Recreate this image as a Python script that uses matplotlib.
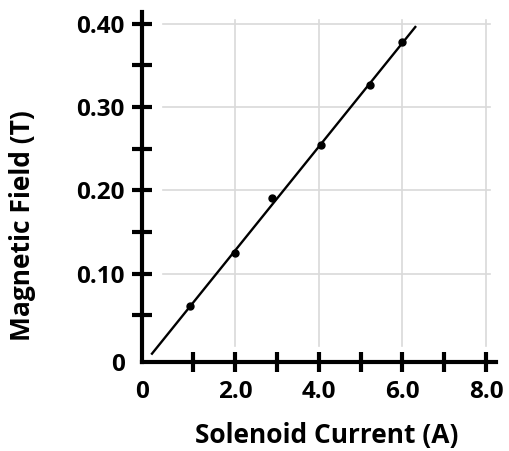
import matplotlib
matplotlib.use("Agg")
import matplotlib.pyplot as plt

# data
current = [0.93, 2.0, 2.89, 4.05, 5.23, 5.99]
field = [0.061, 0.125, 0.191, 0.255, 0.327, 0.378]
fit_x = [0.014, 6.31]
fit_y = [0.004, 0.396]

x_lim = (-0.225, 8.24)
y_lim = (-0.006, 0.414)
x_ticks = [x_lim[0], 1, 2, 3, 4, 5, 6, 7, 8]
x_tick_labels = ["0", "", "2.0", "", "4.0", "", "6.0", "", "8.0"]
y_ticks = [y_lim[0], 0.05, 0.10, 0.15, 0.20, 0.25, 0.30, 0.35, 0.40]
y_tick_labels = ["0", "", "0.10", "", "0.20", "", "0.30", "", "0.40"]
x_grid = [2, 4, 6, 8]
y_grid = [0.10, 0.20, 0.30, 0.40]

plt.rcParams["font.family"] = ["Open Sans", "DejaVu Sans"]
plt.rcParams["font.weight"] = "bold"

fig = plt.figure(figsize=(5.10, 4.51), dpi=100)
ax = fig.add_axes([142/510, 89/451, 354/510, 350/451])
ax.set_xlim(*x_lim)
ax.set_ylim(*y_lim)

for g in x_grid:
    ax.axvline(g, ymin=0.046, ymax=0.977, color="#d9d9d9", lw=1.2, zorder=0)
for g in y_grid:
    ax.axhline(g, xmin=0.059, xmax=0.983, color="#d9d9d9", lw=1.2, zorder=0)

ax.plot(fit_x, fit_y, color="black", lw=1.7, zorder=2)
ax.plot(current, field, "o", color="black", ms=5, zorder=3)

for s in ["top", "right"]:
    ax.spines[s].set_visible(False)
for s in ["left", "bottom"]:
    ax.spines[s].set_linewidth(3.0)
    ax.spines[s].set_capstyle("projecting")

ax.set_xticks(x_ticks, labels=x_tick_labels)
ax.set_yticks(y_ticks, labels=y_tick_labels)
ax.tick_params(direction="inout", length=14.5, width=3.0, color="black",
               labelsize=17.5, pad=5)
ax.tick_params(axis="x", pad=6)
ax.xaxis.get_major_ticks()[0].tick1line.set_visible(False)
ax.yaxis.get_major_ticks()[0].tick1line.set_visible(False)
for lab in ax.get_xticklabels() + ax.get_yticklabels():
    lab.set_fontweight("bold")

ax.set_xlabel("Solenoid Current (A)", fontsize=19, fontweight="bold")
ax.set_ylabel("Magnetic Field (T)", fontsize=19, fontweight="bold")
ax.xaxis.set_label_coords(0.522, -0.17)
ax.yaxis.set_label_coords(-0.30, 0.39)

fig.savefig("out.png", dpi=100)
